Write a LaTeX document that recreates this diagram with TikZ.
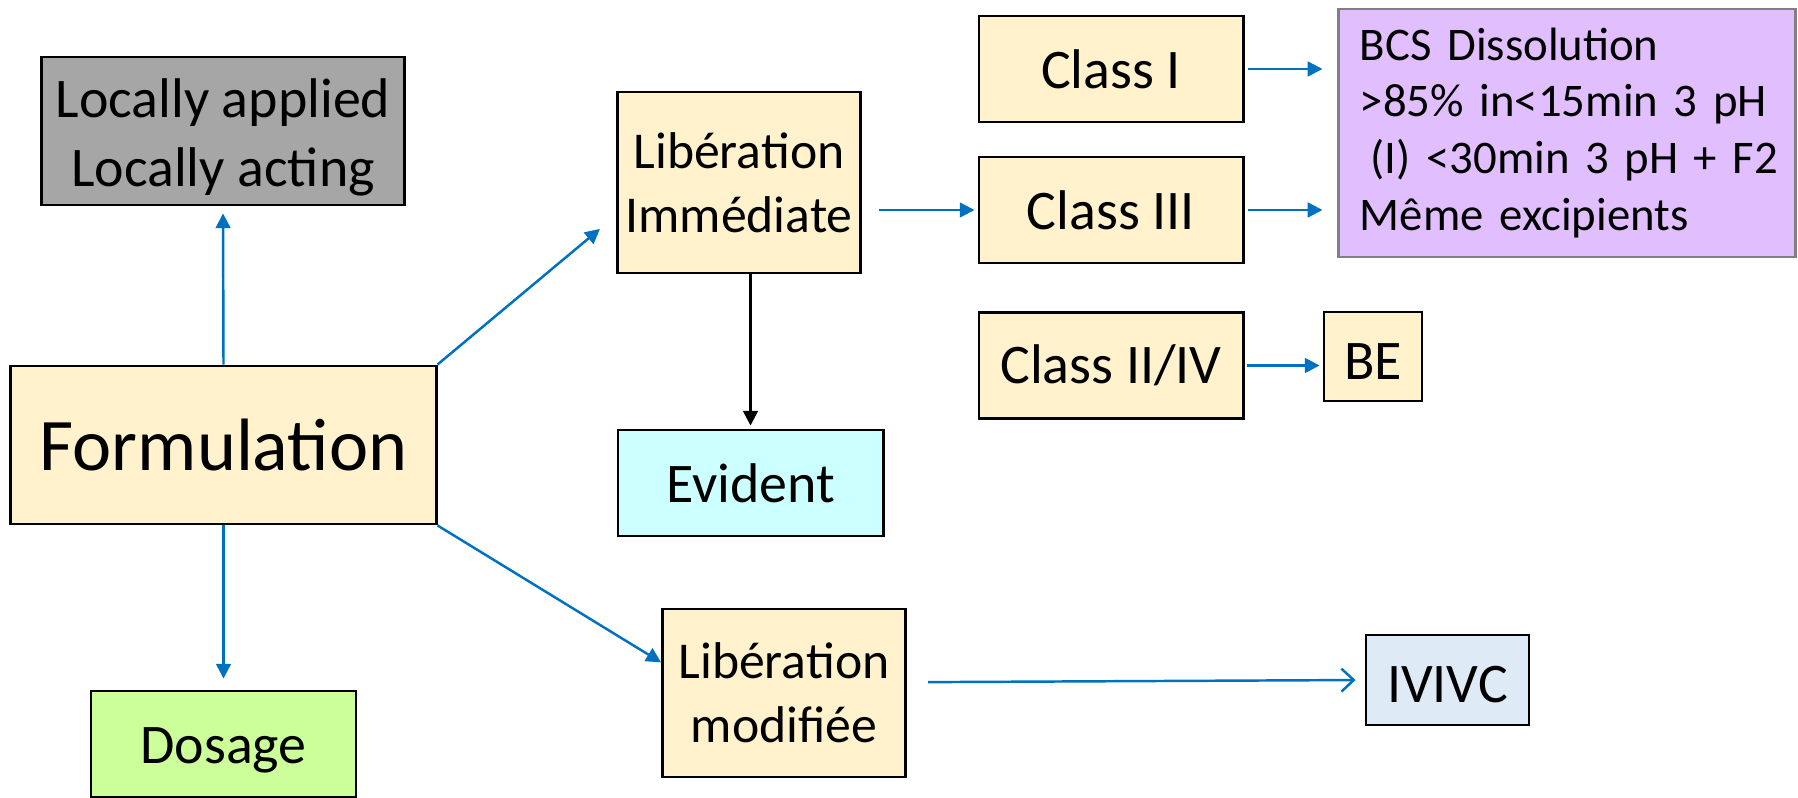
\documentclass[tikz,border=0pt]{standalone}
\usepackage{fontspec}
\setmainfont{Carlito}
\usetikzlibrary{arrows.meta}
\definecolor{cream}{HTML}{FFF2CC}
\definecolor{greybox}{HTML}{A6A6A6}
\definecolor{cyanbox}{HTML}{CCFFFF}
\definecolor{greenbox}{HTML}{CCFF99}
\definecolor{purplebox}{HTML}{E1BFFF}
\definecolor{bluebox}{HTML}{DEEBF7}
\definecolor{arrblue}{HTML}{0070C0}
\begin{document}
\begin{tikzpicture}[x=0.01cm, y=-0.01cm,
  box/.style={draw, line width=0.8pt, inner sep=0pt, align=center,
    font=\fontsize{15.9}{19.6}\selectfont},
  libbox/.style={box, fill=cream, minimum width=2.43cm,
    font=\fontsize{14.7}{18.1}\selectfont},
  classbox/.style={box, fill=cream, minimum width=2.64cm, minimum height=1.06cm},
  link/.style={draw=arrblue, line width=0.7pt, -{Triangle[length=4.2pt,width=4.2pt]}}]
\useasboundingbox (0,0) rectangle (1798,798);
% the formulation in the middle left, with one box above
% and one below, then the two kinds of release on the right
\node[box, fill=cream, minimum width=4.25cm, minimum height=1.58cm,
  font=\fontsize{21.1}{25}\selectfont] (form) at (223.5,445) {Formulation};
\node[box, fill=greybox, minimum width=3.62cm, minimum height=1.48cm]
  (loc) at (223,131) {\rule{0pt}{0.51cm}Locally applied\\Locally acting};
\node[box, fill=greenbox, minimum width=2.65cm, minimum height=1.06cm]
  (dos) at (223.5,744) {\rule{0pt}{0.48cm}Dosage};
% immediate release and its classes
\node[libbox, minimum height=1.81cm] (li) at (739,182.5) {Libération\\Immédiate};
\node[box, fill=cyanbox, minimum width=2.65cm, minimum height=1.06cm]
  (ev) at (750.5,483) {Evident};
\node[classbox] (c1) at (1111,69) {Class I};
\node[classbox] (c3) at (1111,210) {Class III};
\node[classbox] (c24) at (1111,365.5) {Class II/IV};
\node[box, fill=cream, minimum width=0.98cm, minimum height=0.89cm]
  (be) at (1373,356.5) {\rule{0pt}{0.45cm}BE};
\node[box, draw=gray, fill=purplebox, minimum width=4.56cm, minimum height=2.48cm,
  align=left, text width=4.14cm, font=\fontsize{13.3}{16.2}\selectfont]
  (bcs) at (1567,133) {BCS Dissolution\\>85\% in<15min 3 pH\\
  \mbox{\hspace*{0.23em}(I) <30min 3 pH + F2}\\Même excipients};
% modified release
\node[libbox, minimum height=1.68cm] (lm) at (784,693) {Libération\\modifiée};
\node[box, fill=bluebox, minimum width=1.63cm, minimum height=0.9cm]
  (ivivc) at (1447.5,680) {\rule{0pt}{0.45cm}IVIVC};

\draw[link, shorten >=0.07cm] (form.north) -- (loc.south);
\draw[link, shorten >=0.11cm] (form.south) -- (dos.north);
\draw[link, shorten >=0.21cm] (form.north east) -- (li.195);
\draw[link] (form.south east) -- (lm.166);
\draw[line width=0.7pt, -{Triangle[length=4.2pt,width=4.2pt]}, shorten >=0.03cm]
  (li.south -| ev.north) -- (ev.north);
\draw[link, shorten <=0.17cm, shorten >=0.03cm] (li.east |- c3.west) -- (c3.west);
\draw[link, shorten <=0.03cm, shorten >=0.15cm] (c1.east) -- (c1.east -| bcs.west);
\draw[link, shorten <=0.03cm, shorten >=0.15cm] (c3.east) -- (c3.east -| bcs.west);
\draw[link, shorten <=0.02cm, shorten >=0.03cm] (c24.east) -- (c24.east -| be.west);
\draw[draw=arrblue, line width=0.7pt, -{Straight Barb[length=3.5pt,width=6.5pt]},
  shorten <=0.21cm, shorten >=0.09cm] (lm.5) -- (ivivc.west);
\end{tikzpicture}
\end{document}
